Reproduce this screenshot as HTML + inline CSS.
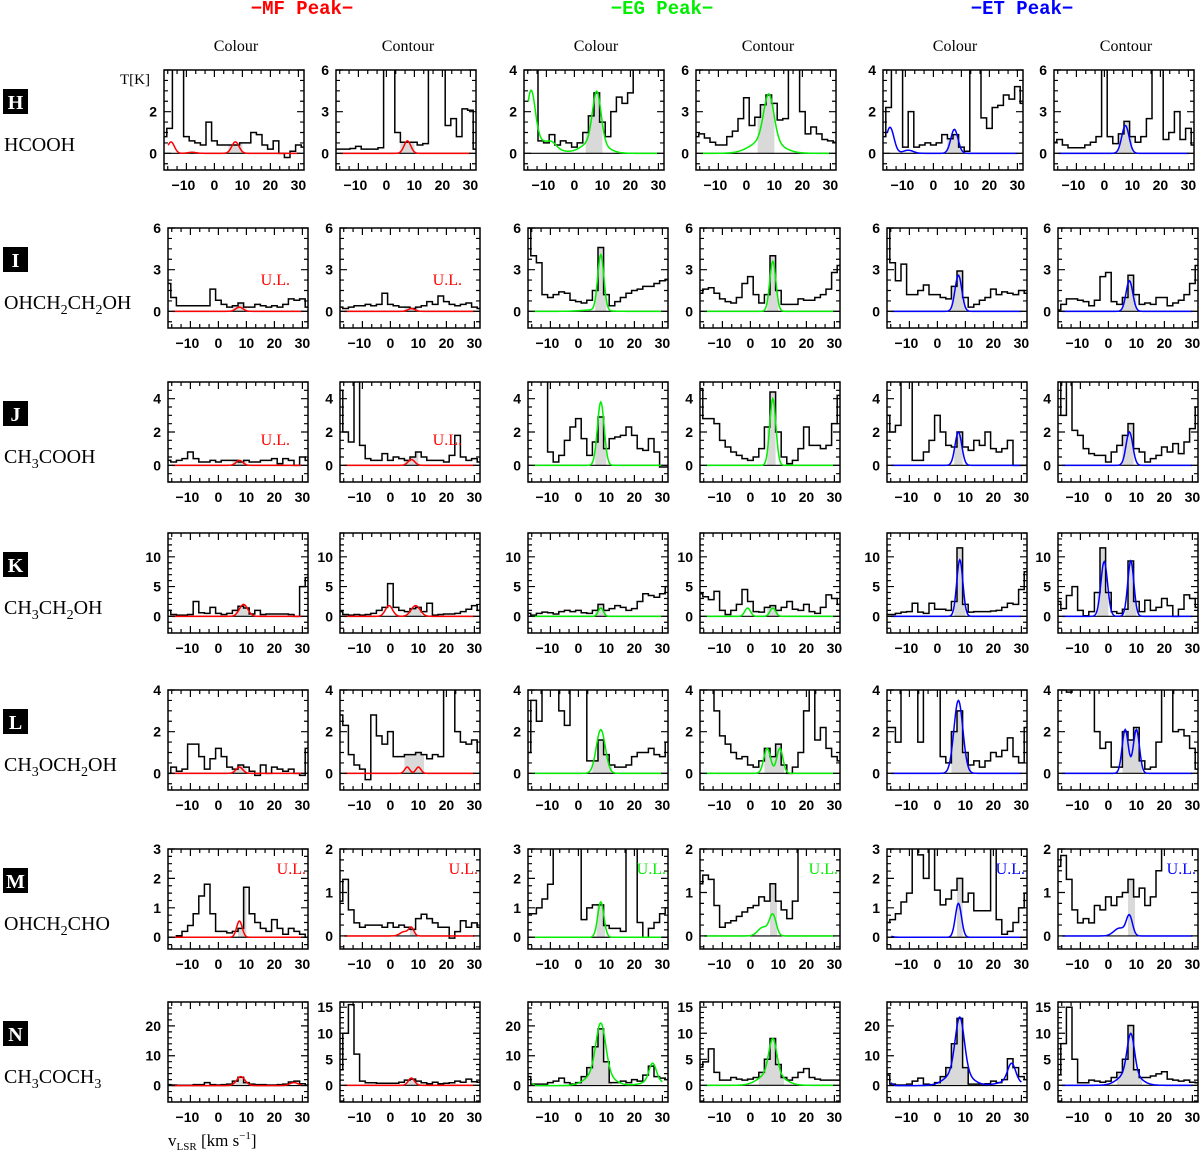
<!DOCTYPE html>
<html><head><meta charset="utf-8"><style>
html,body{margin:0;padding:0;background:#fff}
svg{display:block}
text{font-family:"Liberation Sans",sans-serif}
.serif{font-family:"Liberation Serif",serif}
.mono{font-family:"Liberation Mono",monospace}
.tick{font-weight:600}
</style></head><body>
<svg id="fig" width="1200" height="1159" viewBox="0 0 1200 1159"></svg>
<script>
// velocity channels (km/s) for all observed spectra
const velocities = [-18,-16,-14,-12,-10,-8,-6,-4,-2,0,2,4,6,8,10,12,14,16,18,20,22,24,26,28,30,32];
const xTicks = [-10,0,10,20,30];

// ---- Row H: HCOOH ----
const H1 = [0.8,1.2,4.5,4.5,0.8,0.6,0.5,0.4,1.5,0.6,0.4,0.4,0.4,0.4,0.5,0.5,1.0,0.9,0.4,0.2,0.6,0.0,-0.2,0.1,0.4,0.3];
const H2 = [0.3,0.3,0.3,0.35,0.5,0.3,0.3,0.3,0.4,6.5,6.5,1.5,0.8,0.8,0.8,0.6,0.7,6.5,6.5,6.5,2.0,2.5,1.2,3.2,3.1,0.3];
const H3 = [4.5,4.5,4.5,0.6,0.5,0.9,0.4,0.6,0.5,0.3,0.5,1.0,1.8,2.9,1.5,0.8,2.0,2.7,2.4,2.9,4.5,4.5,4.5,4.5,4.5,4.5];
const H4 = [1.2,1.4,1.1,0.8,0.6,0.6,1.2,1.6,2.5,4.0,2.0,2.6,3.5,4.2,3.6,2.4,2.5,6.5,6.5,3.0,1.4,1.9,1.4,1.0,0.9,0.8];
const H5 = [0.8,2.2,4.5,4.5,0.3,2.0,0.3,0.4,0.5,0.4,0.5,0.9,0.7,0.9,0.3,0.1,4.5,4.5,1.7,1.2,2.2,2.3,2.8,2.6,3.2,2.4];
const H6 = [0.8,1.0,0.6,0.4,0.4,0.4,0.6,0.8,1.2,6.5,1.2,0.7,1.4,2.3,1.2,0.8,1.2,2.5,6.5,6.5,1.0,1.5,3.0,1.0,1.8,0.6];
// model components [amplitude, centre, width]
const H1m = [[0.55,-15.5,1.2],[0.05,-8,1.5],[0.55,7.5,1.3]];
const H2m = [[0.9,7.5,1.2]];
const H3m = [[2.5,-15.5,1.5],[0.6,-13,5],[0.2,-8,1.5],[2.4,8,1.5],[0.6,7,4]];
const H4m = [[3.3,8,1.8],[1.0,7,5]];
const H5m = [[1.25,-15.5,1.4],[0.15,-9,1.8],[1.15,7.5,1.3]];
const H6m = [[2.0,7.5,1.3]];

// ---- Row I: OHCH2CH2OH ----
const I1 = [2.0,1.0,0.4,0.4,0.4,0.4,0.4,0.4,1.6,0.8,0.5,0.3,0.4,0.6,0.3,0.3,0.5,0.4,0.3,0.4,0.3,0.5,0.9,0.8,0.9,0.3];
const I2 = [0.3,0.2,0.3,0.4,0.4,0.5,0.4,0.5,1.3,0.5,0.4,0.3,0.3,0.2,0.3,0.4,0.7,0.5,1.1,0.7,0.5,0.4,0.5,0.6,0.3,0.2];
const I3 = [6.0,4.0,3.5,1.2,1.0,1.2,1.4,1.3,0.8,0.7,0.6,0.8,1.5,4.6,1.2,0.4,0.7,1.0,1.3,1.5,1.6,1.8,1.8,2.0,2.2,2.3];
const I4 = [1.3,1.6,1.7,1.3,0.9,0.7,0.6,1.0,2.0,2.5,1.2,0.6,1.2,4.0,1.5,0.5,0.5,0.5,0.9,0.8,0.8,1.0,1.2,1.6,2.8,3.3];
const I5 = [6.0,3.5,2.2,3.4,1.2,1.2,1.5,1.9,1.2,1.2,1.0,0.9,1.8,2.9,1.0,0.3,0.5,0.8,1.0,1.6,1.2,1.4,1.3,1.2,1.5,1.3];
const I6 = [0.1,0.5,0.9,0.9,0.8,0.7,0.4,0.8,2.5,2.8,0.7,0.5,1.0,2.6,1.2,0.5,0.6,0.5,1.0,1.0,0.4,0.6,0.8,1.2,2.0,3.3];
const I1m = [[0.3,7.5,1.3]];
const I2m = [[0.2,7.5,1.2]];
const I3m = [[4.0,8,1.1],[0.1,5,4]];
const I4m = [[3.6,8,1.1]];
const I5m = [[2.6,7.5,1.2]];
const I6m = [[2.2,7.5,1.2]];

// ---- Row J: CH3COOH ----
const J1 = [0.3,0.2,0.3,0.4,0.8,0.4,0.2,0.2,0.3,0.2,0.3,0.3,0.3,0.2,0.3,0.2,0.2,0.3,0.3,0.4,0.1,0.4,0.3,0.0,0.5,0.3];
const J2 = [4.5,2.0,1.4,5.5,1.2,0.4,0.3,0.3,0.7,0.3,0.5,0.4,0.3,0.5,0.8,0.5,0.3,0.3,0.3,0.2,0.6,1.8,0.5,0.3,0.4,0.2];
const J3 = [5.5,5.5,5.5,5.5,0.8,0.2,0.6,1.5,2.3,2.8,1.6,0.6,1.4,2.9,1.0,1.6,1.7,1.8,2.3,1.8,1.0,0.9,1.6,0.8,-0.1,-0.1];
const J4 = [4.6,2.8,2.8,2.5,1.5,1.1,0.8,0.6,0.4,0.3,0.5,1.0,2.3,4.4,2.0,0.5,0.1,0.3,1.0,2.3,1.2,1.2,1.0,1.2,2.5,4.2];
const J5 = [3.0,2.0,2.4,5.5,5.5,0.3,0.3,0.8,1.5,3.0,2.0,1.2,1.1,2.0,1.1,0.9,1.5,1.2,2.0,1.0,0.8,1.0,1.5,0.0,0.0,0.0];
const J6 = [5.5,3.0,5.5,2.1,1.8,1.0,0.7,0.6,0.6,0.2,0.8,1.2,1.8,2.5,1.0,0.8,0.2,0.4,0.6,1.1,0.8,1.3,0.7,1.4,2.2,3.5];
const J1m = [[0.3,7.5,1.2]];
const J2m = [[0.35,7.5,1.2]];
const J3m = [[3.8,8,1.2]];
const J4m = [[4.0,8,1.1]];
const J5m = [[2.0,7.5,1.2]];
const J6m = [[2.0,7.5,1.2]];

// ---- Row K: CH3CH2OH ----
const K1 = [1.0,0.3,0.2,0.2,0.3,2.5,0.6,0.5,1.5,0.5,0.3,0.5,1.0,1.7,1.4,0.4,1.0,0.3,0.4,0.4,0.4,0.4,0.3,0.0,5.0,6.5];
const K2 = [0.8,0.3,0.2,0.3,0.2,0.3,0.5,1.0,1.5,5.5,1.5,1.0,0.8,1.3,1.5,0.8,2.2,0.2,0.3,0.4,0.4,0.5,0.8,1.2,1.8,1.0];
const K3 = [0.5,0.2,0.5,0.7,0.6,0.4,0.8,1.0,0.8,1.0,0.6,0.5,1.0,2.0,1.0,1.3,1.8,1.5,1.0,1.3,2.5,3.8,3.5,3.2,3.8,5.0];
const K4 = [3.8,3.3,2.8,4.2,1.0,0.3,1.0,2.0,4.5,2.5,0.8,0.7,1.5,1.8,1.0,1.5,2.5,1.2,1.0,2.0,0.8,0.5,1.5,3.6,3.0,2.0];
const K5 = [0.3,0.3,0.5,0.7,0.8,2.2,0.7,0.5,2.2,1.2,1.2,1.0,2.5,11.5,2.0,0.7,0.8,0.8,0.8,0.9,1.0,1.5,2.2,2.0,4.5,7.5];
const K6 = [2.5,1.3,3.5,5.0,1.0,0.1,0.8,4.0,11.5,4.0,0.8,0.5,1.2,9.3,2.5,0.8,2.7,1.0,1.5,3.0,1.8,0.0,1.2,3.6,3.0,1.5];
const K1m = [[2.0,9,1.5]];
const K2m = [[1.8,-0.5,1.3],[1.8,9,1.6]];
const K3m = [[1.4,8,0.9]];
const K4m = [[1.4,-1,1.0],[1.4,8,1.0]];
const K5m = [[9.5,8,1.1]];
const K6m = [[9.2,-1.5,1.2],[9.3,8,1.1]];

// ---- Row L: CH3OCH2OH ----
const L1 = [0.0,0.3,0.1,0.2,1.4,1.4,0.8,0.2,0.7,1.2,0.8,0.3,0.2,0.4,0.3,0.1,-0.1,0.4,0.0,0.3,0.2,0.1,0.2,0.0,-0.1,1.2];
const L2 = [2.8,2.3,0.9,0.4,0.2,-0.3,2.8,1.8,1.4,2.0,0.8,0.8,0.9,0.9,1.0,0.9,0.7,0.9,0.8,4.5,4.5,2.0,1.5,1.4,1.6,1.0];
const L3 = [1.0,3.5,2.5,4.5,4.5,4.5,3.0,2.3,4.5,4.5,4.5,0.6,0.6,1.6,0.9,0.4,0.3,0.3,0.4,0.8,1.0,1.0,1.2,0.9,0.8,1.5];
const L4 = [4.5,4.5,4.5,3.0,1.8,1.4,1.0,0.7,0.8,0.4,0.3,0.6,1.2,0.8,1.4,0.4,0.0,0.3,1.0,3.0,4.5,1.6,2.2,1.2,0.8,0.6];
const L5 = [2.2,2.2,1.5,4.5,4.5,4.5,1.5,4.5,4.5,4.5,0.8,0.5,2.0,3.0,1.0,0.4,0.6,0.3,0.6,1.0,0.8,1.1,1.7,0.8,0.5,2.2];
const L6 = [4.5,4.5,3.9,4.5,4.5,4.5,4.5,2.0,1.2,1.5,0.3,0.3,2.0,1.6,2.2,0.6,0.2,0.3,1.5,4.5,4.5,2.0,2.1,1.8,1.2,0.2];
const L1m = [[0.3,7.5,1.2]];
const L2m = [[0.3,6,0.9],[0.3,10,0.9]];
const L3m = [[2.1,8,1.6]];
const L4m = [[1.2,6,1.2],[1.2,10.5,1.1]];
const L5m = [[3.5,7.5,1.6]];
const L6m = [[2.1,6,1.1],[2.1,10,1.1]];

// ---- Row M: OHCH2CHO ----
const M1 = [0.0,0.0,0.05,0.2,0.4,0.8,1.4,1.8,0.8,0.2,0.2,0.15,0.2,0.3,1.7,0.8,0.5,0.3,0.2,0.6,0.3,0.1,0.3,0.2,0.1,0.0];
const M2 = [0.8,1.3,0.6,0.3,0.2,0.25,0.25,0.25,0.2,0.3,0.2,0.25,0.2,0.15,0.4,0.5,0.4,0.3,0.2,0.2,-0.05,0.1,0.35,0.2,0.3,0.2];
const M3 = [0.8,0.8,1.0,1.3,1.8,3.5,3.5,3.5,3.5,3.5,0.6,1.0,1.1,1.1,0.4,0.3,0.3,0.2,3.5,3.5,0.5,0.0,0.3,0.5,0.8,1.0];
const M4 = [1.2,1.4,1.3,0.7,0.2,0.3,0.35,0.45,0.55,0.65,0.7,0.9,0.8,1.2,0.8,0.6,0.4,0.8,2.3,2.3,2.3,2.3,2.3,2.3,2.3,2.3];
const M5 = [0.5,0.6,0.8,1.2,1.5,3.5,2.8,2.0,3.5,1.6,1.1,1.3,1.6,2.0,1.2,1.5,0.9,0.9,0.9,3.5,0.6,0.1,0.2,0.5,1.0,1.5];
const M6 = [1.6,1.85,1.3,0.6,0.3,0.4,0.3,0.7,0.6,0.9,0.7,0.9,1.0,1.3,0.9,1.1,0.7,0.9,1.5,2.3,2.3,2.3,2.3,2.3,2.3,2.3];
const M1m = [[0.55,7.5,1.0]];
const M2m = [[0.1,5,1.5],[0.18,7.5,0.9]];
const M3m = [[1.2,8,1.1]];
const M4m = [[0.48,8,1.2],[0.2,4.5,1.8]];
const M5m = [[1.15,7.5,1.1],[0.05,-18,1.5]];
const M6m = [[0.45,7.5,1.1],[0.18,4,2]];

// ---- Row N: CH3COCH3 ----
const N1 = [0.3,0.2,0.1,0.1,0.1,0.3,0.3,1.0,0.3,0.2,0.3,0.5,1.5,2.8,1.0,0.5,0.3,0.3,0.2,0.2,0.3,0.5,1.2,1.5,0.6,0.2];
const N2 = [3,10,15.5,6,0.8,0.5,0.5,0.4,0.4,0.4,0.4,0.6,1.0,1.2,0.8,0.5,0.3,0.6,0.3,0.4,0.5,0.8,0.6,1.2,0.7,0.6];
const N3 = [3.0,0.5,0.5,0.5,1.0,1.5,2.5,1.0,0.5,1.0,3.0,6.0,13,19,8,1.0,1.0,1.5,1.0,2.0,1.5,3.5,6.5,3.0,2.5,2.0];
const N4 = [3.5,4.5,7.0,2.5,1.0,1.0,1.5,1.2,1.0,1.2,1.5,2.5,5.0,9.0,4.0,1.5,1.0,1.5,2.5,3.2,1.5,1.2,1.0,1.0,1.0,1.0];
const N5 = [3.5,0.5,0.2,0.2,0.5,1.5,2.5,0.5,0.3,1.0,3.0,6.0,14,22.5,6.0,0.5,0.5,0.5,0.6,1.5,1.0,2.0,9.0,6.0,3.0,2.0];
const N6 = [2.0,8.0,15.0,5.0,0.5,0.5,1.0,0.8,0.6,0.8,1.5,2.5,5.0,11.5,3.0,1.5,1.5,1.8,2.2,2.6,1.2,1.0,0.8,1.0,0.6,0.5];
const N1m = [[3.0,8,1.5],[1.0,27,1.5]];
const N2m = [[1.4,7.5,1.1]];
const N3m = [[16,8,1.7],[5,7.5,4],[6,26.5,1.3],[1.5,27,4],[2.5,-18,1.0]];
const N4m = [[6.5,8,1.4],[2.5,7.5,4]];
const N5m = [[18,8,1.6],[5,7.5,4],[6,26.5,1.4],[1.5,26,4],[3,-18,1.0]];
const N6m = [[7.5,8,1.3],[2.5,7.5,3.5]];

// shaded integration ranges (km/s)
const shadeH = [[5,10],[5,10],[4,10],[4,10],[5,10],[5,10]];
const shadeI = [[5,10],[5,10],[6,10],[6,10],[5,10],[5,10]];
const shadeJ = [[5,10],[5,10],[6,10],[6,9],[6,9],[5,9]];
const shadeK = [[6,11],[6,11],[6,10],[6,10],[6,10],[-4,0,6,10]];
const shadeL = [[5,10],[5,12],[5,12],[5,12],[5,12],[5,12]];
const shadeM = [[7,10],[7,9],[6.5,9.5],[7,9.5],[7,9],[7,9.5]];
const shadeN = [[5,11],[6,10],[0,12],[3,12],[0,12],[3,12]];

// y-axis limits [min,max] and tick labels per row (odd column / even column)
const yLimH = [[-0.8,4],[-1.2,6]]; const yTickH = [[0,2,4],[0,3,6]];
const yLimI = [[-1.2,6],[-1.2,6]]; const yTickI = [[0,3,6],[0,3,6]];
const yLimJ = [[-1,5],[-1,5]];     const yTickJ = [[0,2,4],[0,2,4]];
const yLimK = [[-2.8,14],[-2.8,14]]; const yTickK = [[0,5,10],[0,5,10]];
const yLimL = [[-0.8,4],[-0.8,4]]; const yTickL = [[0,2,4],[0,2,4]];
const yLimM = [[-0.4,3],[-0.3,2]]; const yTickM = [[0,1,2,3],[0,1,2]];
const yLimN = [[-5.5,28],[-3.2,16]]; const yTickN = [[0,10,20],[0,5,10,15]];

const rowLetters = ['H','I','J','K','L','M','N'];
const SPEC = {H1,H2,H3,H4,H5,H6,I1,I2,I3,I4,I5,I6,J1,J2,J3,J4,J5,J6,K1,K2,K3,K4,K5,K6,L1,L2,L3,L4,L5,L6,M1,M2,M3,M4,M5,M6,N1,N2,N3,N4,N5,N6};
const MODEL = {H1m,H2m,H3m,H4m,H5m,H6m,I1m,I2m,I3m,I4m,I5m,I6m,J1m,J2m,J3m,J4m,J5m,J6m,K1m,K2m,K3m,K4m,K5m,K6m,L1m,L2m,L3m,L4m,L5m,L6m,M1m,M2m,M3m,M4m,M5m,M6m,N1m,N2m,N3m,N4m,N5m,N6m};
const SHADE = {H:shadeH,I:shadeI,J:shadeJ,K:shadeK,L:shadeL,M:shadeM,N:shadeN};
const YLIM = {H:yLimH,I:yLimI,J:yLimJ,K:yLimK,L:yLimL,M:yLimM,N:yLimN};
const YTICK = {H:yTickH,I:yTickI,J:yTickJ,K:yTickK,L:yTickL,M:yTickM,N:yTickN};
const ulPanels = ['I1','I2','J1','J2','M1','M2','M3','M4','M5','M6'];
const molecules = [
  [['HCOOH','']],
  [['OHCH',''],['2','s'],['CH',''],['2','s'],['OH','']],
  [['CH',''],['3','s'],['COOH','']],
  [['CH',''],['3','s'],['CH',''],['2','s'],['OH','']],
  [['CH',''],['3','s'],['OCH',''],['2','s'],['OH','']],
  [['OHCH',''],['2','s'],['CHO','']],
  [['CH',''],['3','s'],['COCH',''],['3','s']]
];

const NS = 'http://www.w3.org/2000/svg';
const svg = document.getElementById('fig');
function mk(tag, attrs, parent){
  const e = document.createElementNS(NS, tag);
  for (const k in attrs) e.setAttribute(k, attrs[k]);
  (parent||svg).appendChild(e);
  return e;
}
const rowTops = [70,228,382,533,690,849,1002];
const colLefts = [168,340,528,700,887,1058];
const PW = 140, PH = 100, XMIN = -18, XMAX = 32;
const colColors = ['#ff0000','#ff0000','#00ee00','#00ee00','#0000ff','#0000ff'];

// headers
const titles = [['\u2212MF Peak\u2212',302,'#ff0000'],['\u2212EG Peak\u2212',662,'#00ee00'],['\u2212ET Peak\u2212',1022,'#0000ff']];
titles.forEach(t=>{
  const e = mk('text',{x:t[1],y:14,'text-anchor':'middle',fill:t[2],'font-size':19,'font-weight':'bold',class:'mono'});
  
  
  e.textContent = t[0];
});
colLefts.forEach((cx,i)=>{
  const e = mk('text',{x:cx+PW/2-2,y:51,'text-anchor':'middle','font-size':16,class:'serif'});
  
  
  e.textContent = i%2===0 ? 'Colour' : 'Contour';
});
const tk = mk('text',{x:120,y:84,'font-size':15,class:'serif'});


tk.textContent = 'T[K]';
const xl = mk('text',{x:168,y:1146,'font-size':17,class:'serif'});


xl.innerHTML = 'v<tspan font-size="11" dy="4">LSR</tspan><tspan dy="-4"> [km s</tspan><tspan font-size="11" dy="-7">\u22121</tspan><tspan dy="7">]</tspan>';

// row labels
rowLetters.forEach((L,r)=>{
  const top = rowTops[r];
  const g = mk('g',{});
  
  
  mk('rect',{x:3,y:top+19,width:25,height:25,fill:'#000'},g);
  const t = mk('text',{x:15.5,y:top+39,'text-anchor':'middle',fill:'#fff','font-size':20,'font-weight':'bold',class:'serif'},g);
  t.textContent = L;
  const n = mk('text',{x:4,y:top+81,'font-size':20,class:'serif'},g);
  
  
  let prevSub = false;
  molecules[r].forEach(p=>{
    const s = document.createElementNS(NS,'tspan');
    if (p[1]==='s'){ s.setAttribute('font-size','14'); s.setAttribute('dy','5'); prevSub = true; }
    else if (prevSub){ s.setAttribute('dy','-5'); prevSub = false; }
    s.textContent = p[0];
    n.appendChild(s);
  });
});

function gauss(comps, v){ let s=0; comps.forEach(c=>{ s += c[0]*Math.exp(-0.5*((v-c[1])/c[2])**2); }); return s; }

let clipId = 0;
rowLetters.forEach((L,r)=>{
  const top = rowTops[r];
  for (let c=0;c<6;c++){
    const key = L+(c+1);
    const left = colLefts[c] - (r===0?4:0);
    const [ymin,ymax] = YLIM[L][c%2];
    const X = v => left + (v-XMIN)/(XMAX-XMIN)*PW;
    const Y = t => top + (ymax-t)/(ymax-ymin)*PH;
    const g = mk('g',{});
    
    
    const cid = 'clip'+(clipId++);
    const cp = mk('clipPath',{id:cid},g);
    mk('rect',{x:left,y:top,width:PW,height:PH},cp);
    const inner = mk('g',{'clip-path':'url(#'+cid+')'},g);
    const spec = SPEC[key];
    const sh = SHADE[L][c];
    for (let k=0;k<sh.length;k+=2){
      const a=sh[k], b=sh[k+1];
      let d='M'+X(a)+','+Y(0);
      velocities.forEach((v,i)=>{
        const lo=Math.max(v-1,a), hi=Math.min(v+1,b);
        if (hi>lo){ d+=' L'+X(lo)+','+Y(spec[i])+' L'+X(hi)+','+Y(spec[i]); }
      });
      d+=' L'+X(b)+','+Y(0)+' Z';
      const s = mk('path',{d:d,fill:'#d9d9d9',stroke:'none'},inner);
      
      
    }
    mk('line',{x1:left,x2:left+PW,y1:Y(0),y2:Y(0),stroke:'#000','stroke-width':1.2},inner);
    let d='';
    velocities.forEach((v,i)=>{
      d += (i===0?'M':' L')+X(v-1)+','+Y(spec[i])+' L'+X(v+1)+','+Y(spec[i]);
    });
    const sp = mk('path',{d:d,fill:'none',stroke:'#000','stroke-width':1.5},inner);
    
    
    const comps = MODEL[key+'m'];
    let md='';
    for (let v=-16.5, i=0; v<=30.001; v+=0.25, i++){
      md += (i===0?'M':' L')+X(v).toFixed(2)+','+Y(gauss(comps,v)).toFixed(2);
    }
    const mp = mk('path',{d:md,fill:'none',stroke:colColors[c],'stroke-width':1.5},inner);
    
    
    mk('rect',{x:left,y:top,width:PW,height:PH,fill:'none',stroke:'#000','stroke-width':1.5},g);
    let td='';
    for (let v=-50/3; v<=32; v+=10/3){
      const vv=Math.round(v*1000)/1000; if (vv<XMIN) continue;
      const major = Math.abs(vv/10-Math.round(vv/10))<1e-6;
      const len = major?7:4;
      td += ' M'+X(vv)+','+(top+PH)+' v'+(-len)+' M'+X(vv)+','+top+' v'+len;
    }
    const yt = YTICK[L][c%2];
    const ystep = (yt[1]-yt[0])/ (yt[1]-yt[0]>=5?5:4);
    for (let t=Math.ceil(ymin/ystep)*ystep; t<=ymax+1e-9; t+=ystep){
      const tt=Math.round(t*1000)/1000;
      const major = yt.some(m=>Math.abs(m-tt)<1e-6);
      const len = major?7:4;
      td += ' M'+left+','+Y(tt)+' h'+len+' M'+(left+PW)+','+Y(tt)+' h'+(-len);
    }
    mk('path',{d:td,stroke:'#000','stroke-width':1.2,fill:'none'},g);
    xTicks.forEach(v=>{
      const e = mk('text',{x:X(v)+(v<0?-3:0),y:top+PH+20,'text-anchor':'middle','font-size':14,class:'tick'},g);
      
      
      e.textContent = v<0 ? '\u2212'+Math.abs(v) : String(v);
    });
    yt.forEach(t=>{
      if (r===0 && c===0 && t===4) return;
      const e = mk('text',{x:left-7,y:Y(t)+5,'text-anchor':'end','font-size':14,class:'tick'},g);
      
      
      e.textContent = String(t);
    });
    if (ulPanels.includes(key)){
      const yb = L==='M' ? top+25 : (L==='I'? top+57 : top+63);
      const xe = L==='M' ? left+PW-2 : left+122;
      const e = mk('text',{x:xe,y:yb,'text-anchor':'end',fill:colColors[c],'font-size':16,class:'serif'},g);
      
      
      e.textContent = 'U.L.';
    }
  }
});
</script>
</body></html>
